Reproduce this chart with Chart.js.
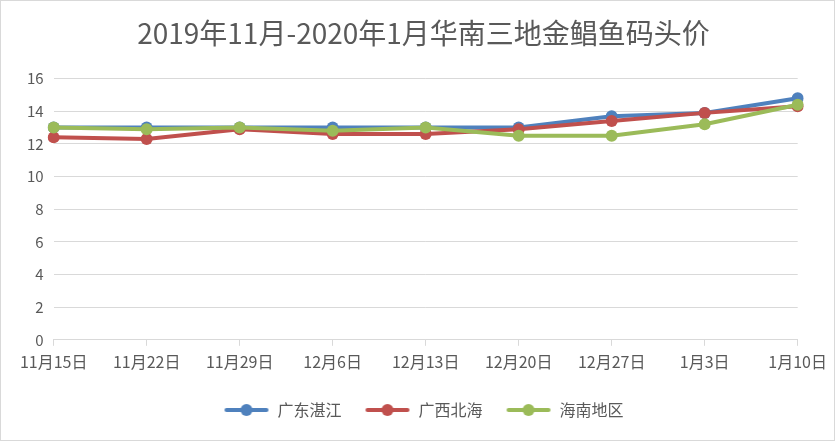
<!DOCTYPE html>
<html>
<head>
<meta charset="utf-8">
<script src="https://cdn.jsdelivr.net/npm/chart.js@4/dist/chart.umd.min.js"></script>
<style>
    body { margin: 0; background: #fff; }
    #wrap {
        width: 835px;
        height: 441px;
        box-sizing: border-box;
        border: 1px solid #d9d9d9;
        position: relative;
    }
</style>
</head>
<body>
<div id="wrap"><canvas id="priceChart"></canvas></div>
<script>
// Data
const dates = ['11月15日', '11月22日', '11月29日', '12月6日', '12月13日', '12月20日', '12月27日', '1月3日', '1月10日'];
const zhanjiang = [13.0, 13.0, 13.0, 13.0, 13.0, 13.0, 13.7, 13.9, 14.8];
const beihai = [12.4, 12.3, 12.9, 12.6, 12.6, 12.9, 13.4, 13.9, 14.3];
const hainan = [13.0, 12.9, 13.0, 12.8, 13.0, 12.5, 12.5, 13.2, 14.4];
const yTicks = [0, 2, 4, 6, 8, 10, 12, 14, 16];

const textColor = '#595959';
const fontFamily = '"Noto Sans CJK SC", "Noto Sans", sans-serif';

// Legend marker: short line with a dot in the middle
function legendMarker(color) {
    const c = document.createElement('canvas');
    c.width = 46;
    c.height = 14;
    const ctx = c.getContext('2d');
    ctx.strokeStyle = color;
    ctx.lineWidth = 4;
    ctx.lineCap = 'round';
    ctx.beginPath();
    ctx.moveTo(3, 7);
    ctx.lineTo(43, 7);
    ctx.stroke();
    ctx.fillStyle = color;
    ctx.beginPath();
    ctx.arc(23, 7, 6, 0, Math.PI * 2);
    ctx.fill();
    return c;
}

function makeSet(label, data, color, order) {
    return {
        label: label,
        data: data,
        order: order,
        borderColor: color,
        backgroundColor: color,
        borderWidth: 4,
        pointRadius: 6,
        pointHoverRadius: 6,
        pointBorderWidth: 0,
        tension: 0,
        pointStyle: 'circle'
    };
}

const ctx = document.getElementById('priceChart').getContext('2d');
const priceChart = new Chart(ctx, {
    type: 'line',
    data: {
        labels: dates,
        datasets: [
            makeSet('广东湛江', zhanjiang, '#4F81BD', 2),
            makeSet('广西北海', beihai, '#C0504D', 1),
            makeSet('海南地区', hainan, '#9BBB59', 0)
        ]
    },
    options: {
        responsive: true,
        maintainAspectRatio: false,
        animation: false,
        layout: {
            padding: { left: 16, right: 4, top: 8, bottom: 12 }
        },
        scales: {
            x: {
                offset: false,
                grid: {
                    display: true,
                    drawOnChartArea: false,
                    drawTicks: true,
                    tickLength: 6,
                    color: '#d9d9d9'
                },
                border: { color: '#d9d9d9', width: 1 },
                ticks: {
                    color: textColor,
                    font: { family: fontFamily, size: 16 },
                    maxRotation: 0,
                    autoSkip: false,
                    padding: 7
                }
            },
            y: {
                min: 0,
                max: 16,
                afterBuildTicks: axis => {
                    axis.ticks = yTicks.map(v => ({ value: v }));
                },
                grid: {
                    color: '#d9d9d9',
                    drawTicks: false
                },
                border: { display: false },
                ticks: {
                    color: textColor,
                    font: { family: fontFamily, size: 15 },
                    padding: 10
                }
            }
        },
        plugins: {
            title: {
                display: true,
                text: '2019年11月-2020年1月华南三地金鲳鱼码头价',
                color: textColor,
                font: { family: fontFamily, size: 28, weight: 'normal' },
                padding: { top: 8, bottom: 28 }
            },
            legend: {
                position: 'bottom',
                labels: {
                    color: textColor,
                    font: { family: fontFamily, size: 16 },
                    usePointStyle: true,
                    pointStyleWidth: 46,
                    boxHeight: 14,
                    padding: 23,
                    generateLabels: chart => chart.data.datasets.map((ds, i) => ({
                        text: ds.label,
                        fontColor: textColor,
                        pointStyle: legendMarker(ds.borderColor),
                        datasetIndex: i,
                        hidden: false,
                        lineWidth: 0,
                        strokeStyle: 'transparent',
                        fillStyle: 'transparent'
                    }))
                }
            },
            tooltip: { enabled: false }
        }
    }
});
</script>
</body>
</html>
